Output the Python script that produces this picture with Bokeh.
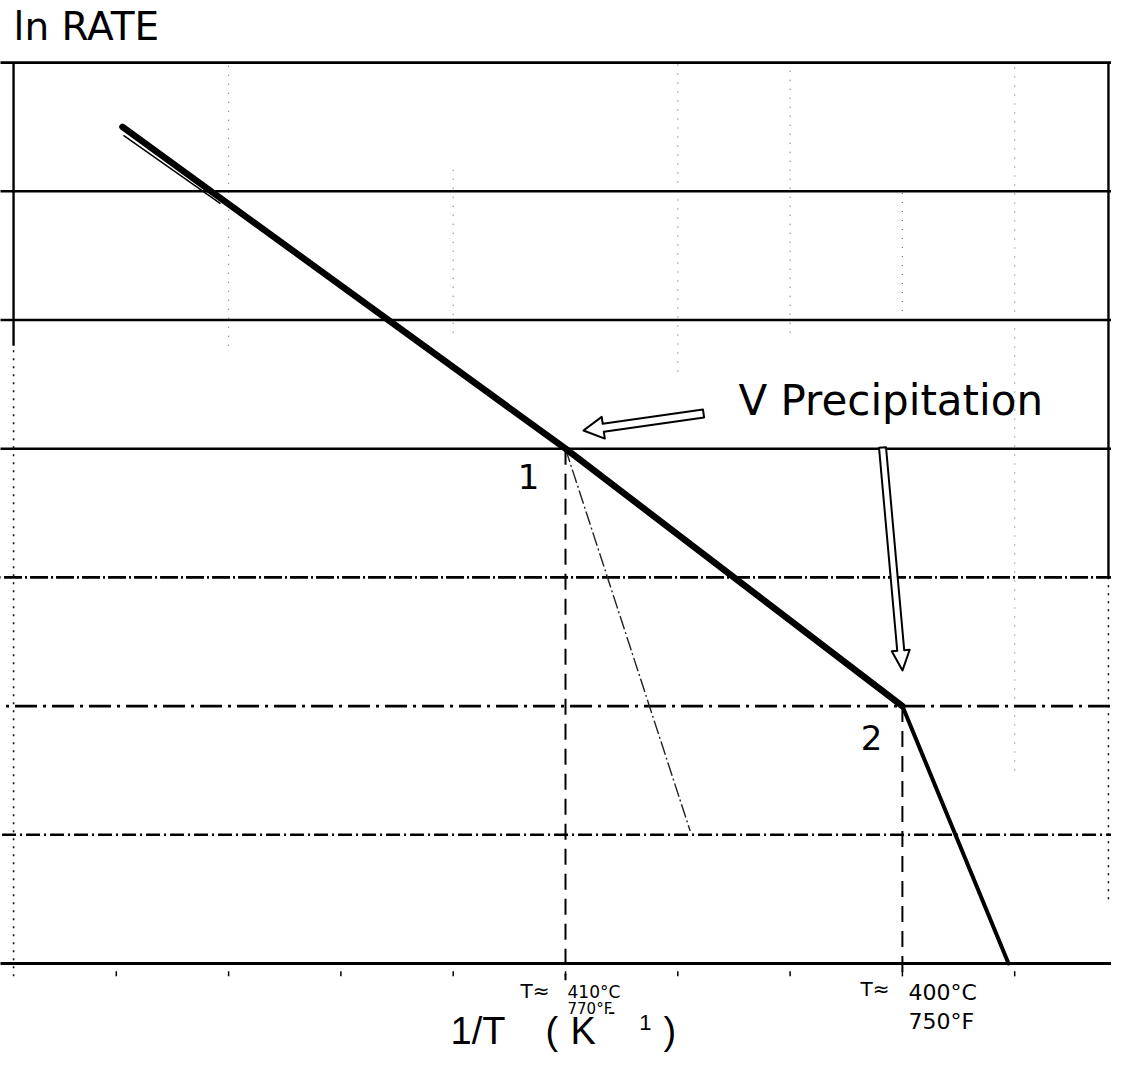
import math
from bokeh.plotting import figure
from bokeh.models import Range1d
from bokeh.core.properties import value
from bokeh.embed import file_html
from bokeh.resources import INLINE

# ---------------- data ----------------
# ln(rate) vs 1/T, arbitrary grid units (one grid box = 1 unit)
curve_x = [1.055, 5.0, 8.0, 8.945]      # 1/T
curve_y = [6.5, 4.0, 2.0, 0.0]          # ln RATE
start_trace_x = [1.064, 1.928]          # faint second stroke at the start of the line
start_trace_y = [6.434, 5.905]
extrap_x = [5.0, 6.11]                  # faint steep extrapolation from point 1
extrap_y = [4.0, 1.03]
h_levels = [0, 1, 2, 3, 4, 5, 6, 7]     # horizontal rulings
h_dashes = ["solid", "14 4 2 4", "22 6 3 6", "18 3 2 3", "solid", "solid", "solid", "solid"]
v_dot_x = [2, 4, 6, 7, 8, 9]            # faint dotted verticals
v_dot_top = [7.0, 6.2, 7.0, 7.0, 6.0, 7.0]
v_dot_bottom = [4.8, 4.9, 4.6, 4.9, 5.0, 1.5]
tick_x = [1, 2, 3, 4, 5, 6, 7, 8, 9]
break_x = [5.0, 8.0]                    # transition points 1 and 2
break_y = [4.0, 2.0]
break_names = ["1", "2"]

# ---------------- figure ----------------
W, H = 1111, 1054
X0, X1 = -0.0312, 9.862
Y0, Y1 = -0.7071, 7.4825
SX = W / (X1 - X0)
SY = H / (Y1 - Y0)

p = figure(width=W, height=H, x_range=Range1d(X0, X1), y_range=Range1d(Y0, Y1),
           output_backend="svg", toolbar_location=None, min_border=0,
           x_axis_location=None, y_axis_location=None,
           background_fill_color="white", border_fill_color="white")
p.grid.visible = False
p.outline_line_color = None

# horizontal rulings
for lvl, dash in zip(h_levels, h_dashes):
    p.line([X0 - 0.2, X1 + 0.2], [lvl, lvl], line_color="black",
           line_width=3 if lvl == 0 else 2.6, line_dash=dash)

# faint dotted verticals
for vx, vt, vb in zip(v_dot_x, v_dot_top, v_dot_bottom):
    p.line([vx, vx], [vb, vt], line_color="black", line_alpha=0.55,
           line_width=1.2, line_dash="1 8")

# left and right borders
p.line([0.085, 0.085], [4.8, 7.0], line_color="black", line_width=2.4)
p.line([0.085, 0.085], [-0.1, 4.8], line_color="black", line_width=1.5, line_dash="2 6")
p.line([9.835, 9.835], [3.0, 7.0], line_color="black", line_width=2.4)
p.line([9.835, 9.835], [0.5, 3.0], line_color="black", line_width=1.5, line_dash="2 6")

# bottom tick marks
p.segment(x0=tick_x, y0=[-0.06] * len(tick_x), x1=tick_x, y1=[-0.1] * len(tick_x),
          line_color="black", line_width=1.5)

# dashed drop lines from the break points
for bx, by in zip(break_x, break_y):
    p.line([bx, bx], [by, -0.13], line_color="black", line_width=2, line_dash="16 9")

# faint extrapolation and start stroke
p.line(extrap_x, extrap_y, line_color="#222222", line_width=1.4, line_dash="14 3 2 3")
p.line(start_trace_x, start_trace_y, line_color="black", line_width=1.5)

# main Arrhenius line
p.line(curve_x[:3], curve_y[:3], line_color="black", line_width=6.5, line_join="round", line_cap="round")
p.line(curve_x[2:], curve_y[2:], line_color="black", line_width=4, line_join="round", line_cap="round")


def to_px(x, y):
    return (x - X0) * SX, (y - Y0) * SY


def to_data(px, py):
    return px / SX + X0, py / SY + Y0


def hollow_arrow(tail, tip, shaft_w, head_w, head_len):
    tx, ty = to_px(*tail)
    hx, hy = to_px(*tip)
    dx, dy = hx - tx, hy - ty
    L = math.hypot(dx, dy)
    ux, uy = dx / L, dy / L
    nx, ny = -uy, ux
    bx, by = hx - ux * head_len, hy - uy * head_len
    pts = [(tx + nx * shaft_w / 2, ty + ny * shaft_w / 2),
           (bx + nx * shaft_w / 2, by + ny * shaft_w / 2),
           (bx + nx * head_w / 2, by + ny * head_w / 2),
           (hx, hy),
           (bx - nx * head_w / 2, by - ny * head_w / 2),
           (bx - nx * shaft_w / 2, by - ny * shaft_w / 2),
           (tx - nx * shaft_w / 2, ty - ny * shaft_w / 2)]
    d = [to_data(a, b) for a, b in pts]
    p.patch([q[0] for q in d], [q[1] for q in d], fill_color="white",
            line_color="black", line_width=2, line_join="round")


hollow_arrow((6.229, 4.274), (5.160, 4.141), 8, 22, 20)
hollow_arrow((7.823, 4.009), (8.001, 2.277), 7, 18, 20)

F = value("DejaVu Sans")
FL = value("Liberation Sans")


def label(x, y, txt, size, align="left", font=F):
    p.text(x=[x], y=[y], text=[txt], text_font=font, text_font_size=size,
           text_align=align, text_baseline="middle", text_color="black")


label(0.085, 7.28, "ln RATE", "39px")
label(6.54, 4.375, "V Precipitation", "42px")
for bx, by, nm in zip([4.67, 7.725], [3.784, 1.756], break_names):
    label(bx, by, nm, "34px", align="center")

# temperature notes under the break points
label(4.599, -0.21, "T≈", "20px")
label(5.018, -0.218, "410°C", "17px")
label(5.018, -0.35, "770°F", "15px")
label(7.627, -0.202, "T≈", "20px")
label(8.054, -0.225, "400°C", "22px")
label(8.054, -0.451, "750°F", "22px")

# x-axis title 1/T (K^-1)
for tx, tt in zip([3.976, 4.822, 5.045, 5.873], ["1/T", "(", "K", ")"]):
    label(tx, -0.521, tt, "38px", font=FL)
label(5.41, -0.373, "-", "22px", align="center", font=FL)
label(5.712, -0.458, "1", "22px", align="center", font=FL)

open("out.html", "w").write(file_html(p, INLINE))
